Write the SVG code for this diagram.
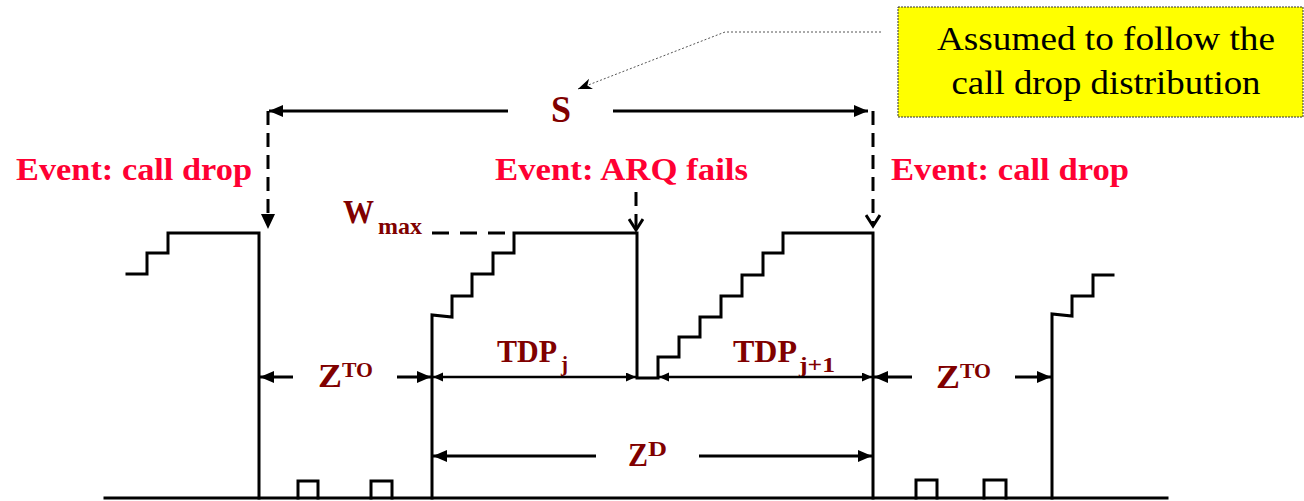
<svg xmlns="http://www.w3.org/2000/svg" width="1304" height="501" viewBox="0 0 1304 501">
  <style>
    .wave { fill: none; stroke: #000; stroke-width: 3; stroke-linejoin: miter; stroke-linecap: square; }
    .dim { fill: none; stroke: #000; stroke-width: 3; }
    .dimS { fill: none; stroke: #000; stroke-width: 2.5; }
    .dash { fill: none; stroke: #000; stroke-width: 3; stroke-dasharray: 14 8; }
    .wdash { fill: none; stroke: #000; stroke-width: 3; stroke-dasharray: 17 11; }
    .leader { fill: none; stroke: #555; stroke-width: 1; stroke-dasharray: 2 2; }
    text { font-family: "Liberation Serif", "DejaVu Serif", serif; }
    .event { font-weight: bold; font-size: 32px; fill: #FF0033; }
    .lbl { font-weight: bold; fill: #800000; }
    .note { font-size: 33px; fill: #000; }
  </style>
  <defs>
    <marker id="arrow" markerUnits="userSpaceOnUse" markerWidth="16" markerHeight="14" refX="14" refY="6" orient="auto-start-reverse">
      <path d="M0,0 L14,6 L0,12 z" fill="#000"/>
    </marker>
    <marker id="arrowSmall" markerUnits="userSpaceOnUse" markerWidth="12" markerHeight="10" refX="10" refY="4.5" orient="auto-start-reverse">
      <path d="M0,0 L10,4.5 L0,9 z" fill="#000"/>
    </marker>
    <marker id="vee" markerUnits="userSpaceOnUse" markerWidth="20" markerHeight="16" refX="12" refY="8" orient="auto">
      <path d="M1,1 L12,8 L1,15" fill="none" stroke="#000" stroke-width="3"/>
    </marker>
    <marker id="leaderHead" markerUnits="userSpaceOnUse" markerWidth="16" markerHeight="12" refX="14" refY="5.5" orient="auto">
      <path d="M0,0 L14,5.5 L0,11 L4,5.5 z" fill="#000"/>
    </marker>
  </defs>

  <!-- note box with leader to the S span -->
  <g id="note">
    <rect x="898" y="7" width="405" height="110" fill="#FFFF00" stroke="#333" stroke-width="1" stroke-dasharray="2 1"/>
    <text class="note" x="1106" y="50" text-anchor="middle" textLength="338" lengthAdjust="spacingAndGlyphs">Assumed to follow the</text>
    <text class="note" x="1106" y="94" text-anchor="middle" textLength="309" lengthAdjust="spacingAndGlyphs">call drop distribution</text>
  </g>

  <!-- signal trace -->
  <g id="trace">
    <path class="wave" d="M105,498 H1167"/>
    <path class="wave" d="M127,274 H147 V253 H168 V233 H259 V498"/>
    <path class="wave" d="M432,498 V315 L452,317 V296 H472 V274 H493 V253 H514 V233 H637 V378 H658 V357 H679 V337 H700 V317 H721 V296 H742 V275 H763 V253 H783 V233 H873 V498"/>
    <path class="wave" d="M1052,498 V314 L1072,316 V296 H1093 V275 H1113"/>
    <path class="wave" d="M298,498 V481 H318 V498"/>
    <path class="wave" d="M371,498 V481 H392 V498"/>
    <path class="wave" d="M916,498 V480 H937 V498"/>
    <path class="wave" d="M984,498 V480 H1006 V498"/>
  </g>

  <!-- event labels -->
  <g id="events">
    <text class="event" x="16" y="180" textLength="236" lengthAdjust="spacingAndGlyphs">Event: call drop</text>
    <text class="event" x="495" y="180" textLength="253" lengthAdjust="spacingAndGlyphs">Event: ARQ fails</text>
    <text class="event" x="891" y="180" textLength="238" lengthAdjust="spacingAndGlyphs">Event: call drop</text>
  </g>

  <!-- span labels -->
  <g id="labels">
    <text class="lbl" x="551" y="122" font-size="37" textLength="20" lengthAdjust="spacingAndGlyphs">S</text>
    <text class="lbl" x="343" y="223" font-size="34" textLength="31" lengthAdjust="spacingAndGlyphs">W</text>
    <text class="lbl" x="378" y="234" font-size="24" textLength="44" lengthAdjust="spacingAndGlyphs">max</text>
    <text class="lbl" x="318" y="387" font-size="33" textLength="24" lengthAdjust="spacingAndGlyphs">Z</text>
    <text class="lbl" x="342" y="377" font-size="20" textLength="31" lengthAdjust="spacingAndGlyphs">TO</text>
    <text class="lbl" x="936" y="388" font-size="33" textLength="24" lengthAdjust="spacingAndGlyphs">Z</text>
    <text class="lbl" x="960" y="378" font-size="20" textLength="31" lengthAdjust="spacingAndGlyphs">TO</text>
    <text class="lbl" x="497" y="362" font-size="32" textLength="60" lengthAdjust="spacingAndGlyphs">TDP</text>
    <text class="lbl" x="561" y="371" font-size="22" textLength="7" lengthAdjust="spacingAndGlyphs">j</text>
    <text class="lbl" x="733" y="362" font-size="32" textLength="64" lengthAdjust="spacingAndGlyphs">TDP</text>
    <text class="lbl" x="799" y="372" font-size="22" textLength="36" lengthAdjust="spacingAndGlyphs">j+1</text>
    <text class="lbl" x="628" y="466" font-size="33" textLength="20" lengthAdjust="spacingAndGlyphs">Z</text>
    <text class="lbl" x="648" y="456" font-size="20" textLength="19" lengthAdjust="spacingAndGlyphs">D</text>
  </g>

  <!-- dimension arrows, event pointers and leaders -->
  <g id="connectors">
    <path class="leader" d="M881,32 H725 L578,89" marker-end="url(#leaderHead)"/>
    <path class="dim" d="M508,111 H269" marker-end="url(#arrow)"/>
    <path class="dim" d="M613,111 H868" marker-end="url(#arrow)"/>
    <path class="dash" d="M268,111 V214"/>
    <path d="M261,214 L268,229 L275,214 z" fill="#000"/>
    <path class="dash" d="M873,111 V226" marker-end="url(#vee)"/>
    <path class="dash" d="M636,192 V230" marker-end="url(#vee)"/>
    <path class="wdash" d="M432,233 H514"/>
    <path class="dim" d="M293,377 H260" marker-end="url(#arrow)"/>
    <path class="dim" d="M397,377 H431" marker-end="url(#arrow)"/>
    <path class="dim" d="M912,377 H874" marker-end="url(#arrow)"/>
    <path class="dim" d="M1015,377 H1051" marker-end="url(#arrow)"/>
    <path class="dimS" d="M433,377 H636" marker-start="url(#arrowSmall)" marker-end="url(#arrowSmall)"/>
    <path class="dimS" d="M659,377 H872" marker-start="url(#arrowSmall)" marker-end="url(#arrowSmall)"/>
    <path class="dim" d="M596,456 H433" marker-end="url(#arrow)"/>
    <path class="dim" d="M699,456 H872" marker-end="url(#arrow)"/>
  </g>
</svg>
